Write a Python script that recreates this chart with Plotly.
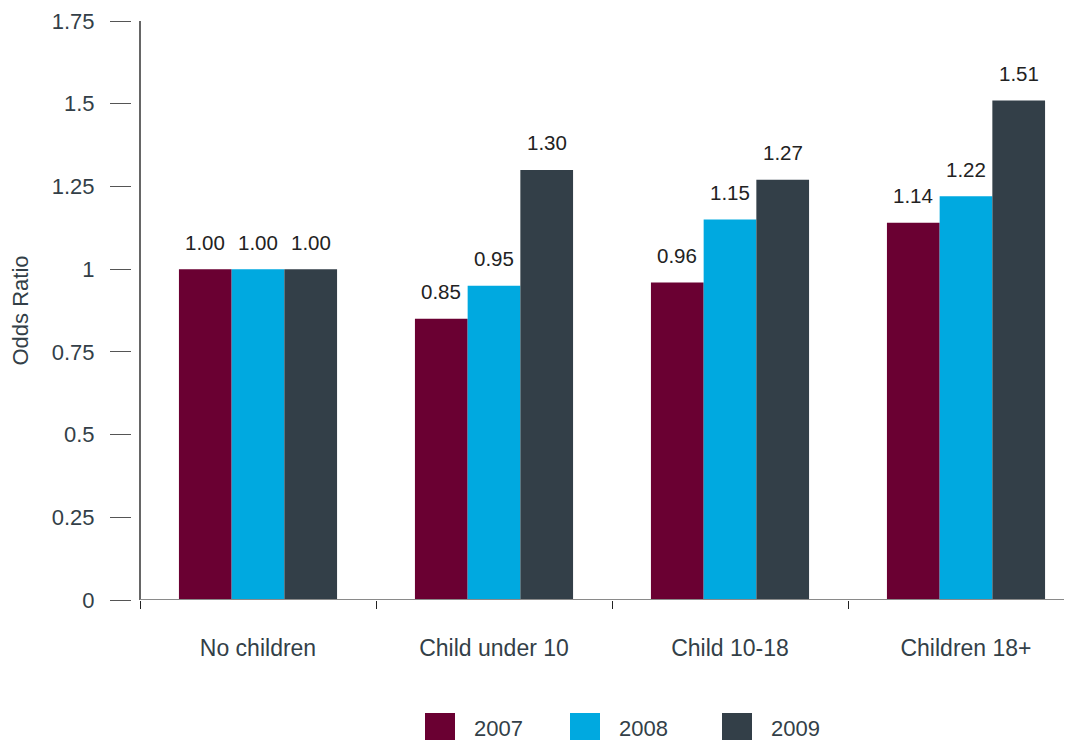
import plotly.graph_objects as go

categories = ["No children", "Child under 10", "Child 10-18", "Children 18+"]
years = ["2007", "2008", "2009"]
values_2007 = [1.00, 0.85, 0.96, 1.14]
values_2008 = [1.00, 0.95, 1.15, 1.22]
values_2009 = [1.00, 1.30, 1.27, 1.51]
colors = ["#6A0032", "#00A9E0", "#333F48"]
y_tickvals = [0, 0.25, 0.5, 0.75, 1, 1.25, 1.5, 1.75]
y_ticktext = ["0", "0.25", "0.5", "0.75", "1", "1.25", "1.5", "1.75"]

series = [values_2007, values_2008, values_2009]
AXIS_COLOR = "#333F48"
FONT = "Liberation Sans, Arial, sans-serif"

# page has an 8px body margin; layout numbers below account for it
L, T, PW, PH = 124, 13, 948, 579
CAT_PX = 236.0
BARGAP = 0.33
BAR_PX = CAT_PX * (1 - BARGAP) / 3

fig = go.Figure()
for i, (name, vals, col) in enumerate(zip(years, series, colors)):
    fig.add_trace(go.Bar(
        x=categories, y=vals, name=name, marker=dict(color=col, line=dict(width=0)),
        showlegend=False,
    ))
    for cat, v in zip(categories, vals):
        fig.add_annotation(x=cat, y=v, xref="x", yref="y", text=f"{v:.2f}",
                           showarrow=False, yshift=27, xshift=(i - 1) * BAR_PX,
                           xanchor="center", yanchor="middle",
                           font=dict(family=FONT, size=20.5, color="#222222"))

# axis lines drawn as shapes (detached y ticks in reference)
fig.add_shape(type="line", xref="x", yref="y", x0=-0.5, x1=-0.5, y0=0, y1=1.755,
              line=dict(color="#333333", width=1.5))
fig.add_shape(type="line", xref="x", yref="y", x0=-0.5, x1=3.6, y0=0, y1=0,
              line=dict(color="#8a8a8a", width=2))

# legend (large squares), positions in page pixels
leg_x = [425, 570, 722]
for name, col, px in zip(years, colors, leg_x):
    fx = px - 8
    fig.add_shape(type="rect", xref="paper", yref="paper",
                  x0=(fx - L) / PW, x1=(fx + 30 - L) / PW,
                  y0=(T + PH - (745 - 8)) / PH, y1=(T + PH - (713 - 8)) / PH,
                  fillcolor=col, line=dict(width=0))
    fig.add_annotation(xref="paper", yref="paper", x=(fx + 47 - L) / PW,
                       y=(T + PH - (728 - 8)) / PH, text=name, showarrow=False,
                       xanchor="left", yanchor="middle",
                       font=dict(family=FONT, size=22, color=AXIS_COLOR))

fig.update_layout(
    width=1072, height=740,
    margin=dict(l=L, r=0, t=T, b=740 - T - PH),
    plot_bgcolor="white", paper_bgcolor="white",
    barmode="group", bargap=BARGAP, bargroupgap=0,
    font=dict(family=FONT, color=AXIS_COLOR),
    xaxis=dict(
        range=[-0.5 - 8 / CAT_PX, -0.5 + (PW - 8) / CAT_PX],
        showline=False, showgrid=False, zeroline=False,
        tickson="boundaries", ticks="outside", ticklen=8, tickcolor="#222222", tickwidth=1.2,
        tickfont=dict(family=FONT, size=23, color=AXIS_COLOR), ticklabelstandoff=32,
    ),
    yaxis=dict(
        range=[0, 1.75], showline=False, showgrid=False, zeroline=False,
        tickvals=y_tickvals, ticktext=y_ticktext,
        ticks="outside", ticklen=21, tickcolor="#555555", tickwidth=1.2,
        tickfont=dict(family=FONT, size=22, color=AXIS_COLOR), ticklabelstandoff=11,
        title=dict(text="Odds Ratio", font=dict(family=FONT, size=22, color=AXIS_COLOR), standoff=17),
    ),
)

fig.write_html("out.html")
